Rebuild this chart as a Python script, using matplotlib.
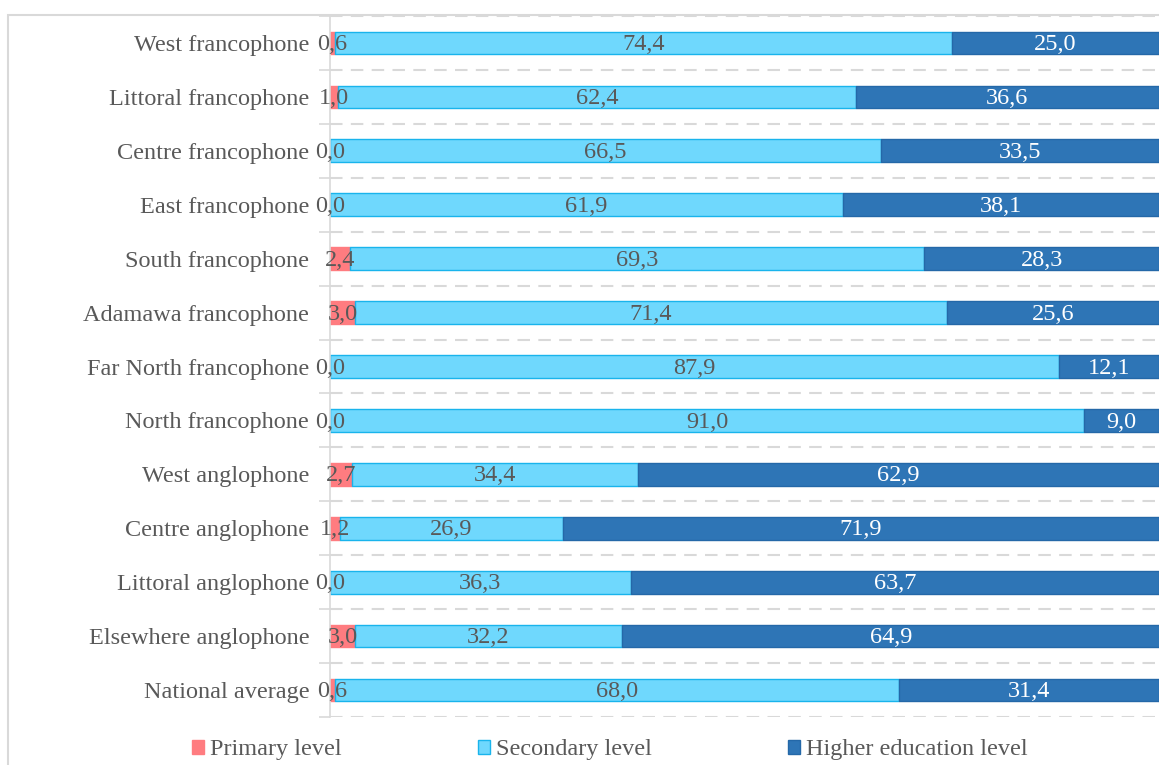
import numpy as np
import matplotlib.pyplot as plt
from matplotlib.patches import Rectangle

regions = ["West francophone", "Littoral francophone", "Centre francophone", "East francophone",
           "South francophone", "Adamawa francophone", "Far North francophone", "North francophone",
           "West anglophone", "Centre anglophone", "Littoral anglophone", "Elsewhere anglophone",
           "National average"]
primary = [0.6, 1.0, 0.0, 0.0, 2.4, 3.0, 0.0, 0.0, 2.7, 1.2, 0.0, 3.0, 0.6]
secondary = [74.4, 62.4, 66.5, 61.9, 69.3, 71.4, 87.9, 91.0, 34.4, 26.9, 36.3, 32.2, 68.0]
higher = [25.0, 36.6, 33.5, 38.1, 28.3, 25.6, 12.1, 9.0, 62.9, 71.9, 63.7, 64.9, 31.4]
series_names = ["Primary level", "Secondary level", "Higher education level"]

plt.rcParams['font.family'] = ['Liberation Serif', 'DejaVu Serif']
txt_col = '#595959'

fig = plt.figure(figsize=(11.59, 7.65), dpi=100)
W, H = 1159, 765
ax = fig.add_axes([330 / W, 1 - 717 / H, (1159 - 330) / W, (717 - 16) / H])

# outer chart frame
fig.patches.append(Rectangle((8 / W, -0.1), 1.2, 1 - 15 / H + 0.1, transform=fig.transFigure,
                             fill=False, edgecolor='#D9D9D9', linewidth=1.5, zorder=0))

y = np.arange(len(regions))
p = np.array(primary)
s = np.array(secondary)
h = np.array(higher)
bh = 0.42

b1 = ax.barh(y, p, height=bh, color='#FF7C80', edgecolor='#FF7C80', linewidth=1, label=series_names[0])
b2 = ax.barh(y, s, left=p, height=bh, color='#6FD8FD', edgecolor='#19B4EC', linewidth=1, label=series_names[1])
b3 = ax.barh(y, h, left=p + s, height=bh, color='#2E75B6', edgecolor='#2468A8', linewidth=1, label=series_names[2])

fs = 17.5
def fmt(v):
    return f"{v:.1f}".replace('.', ',')

# value labels centred in each segment
for i in range(len(regions)):
    ax.text(p[i] / 2, y[i] + 0.03, fmt(p[i]), ha='center', va='center', fontsize=fs, color=txt_col)
    ax.text(p[i] + s[i] / 2, y[i] + 0.03, fmt(s[i]), ha='center', va='center', fontsize=fs, color=txt_col)
    ax.text(p[i] + s[i] + h[i] / 2, y[i] + 0.03, fmt(h[i]), ha='center', va='center', fontsize=fs, color='white')

ax.set_xlim(0, 100)
ax.set_ylim(len(regions) - 0.5, -0.5)
ax.set_yticks(y)
ax.set_yticklabels(regions, fontsize=fs, color=txt_col)
ax.set_yticks(np.arange(-0.5, len(regions), 1), minor=True)
ax.tick_params(axis='y', which='major', length=0, pad=15)
ax.tick_params(axis='y', which='minor', length=8, color='#D9D9D9', width=1.2)
ax.set_xticks([])
ax.grid(axis='y', which='minor', color='#D9D9D9', linestyle=(0, (6, 4)), linewidth=1.5)
ax.set_axisbelow(True)
for side in ['top', 'right', 'bottom']:
    ax.spines[side].set_visible(False)
ax.spines['left'].set_color('#D9D9D9')
ax.spines['left'].set_linewidth(1.2)

leg = fig.legend(handles=[b1, b2, b3], loc='center', bbox_to_anchor=(610 / W, 1 - 750 / H),
                 ncol=3, frameon=False, fontsize=fs, handlelength=0.5, handleheight=0.5,
                 handletextpad=0.25, columnspacing=5.6)
for t in leg.get_texts():
    t.set_color(txt_col)

fig.savefig("out.png", dpi=100)
